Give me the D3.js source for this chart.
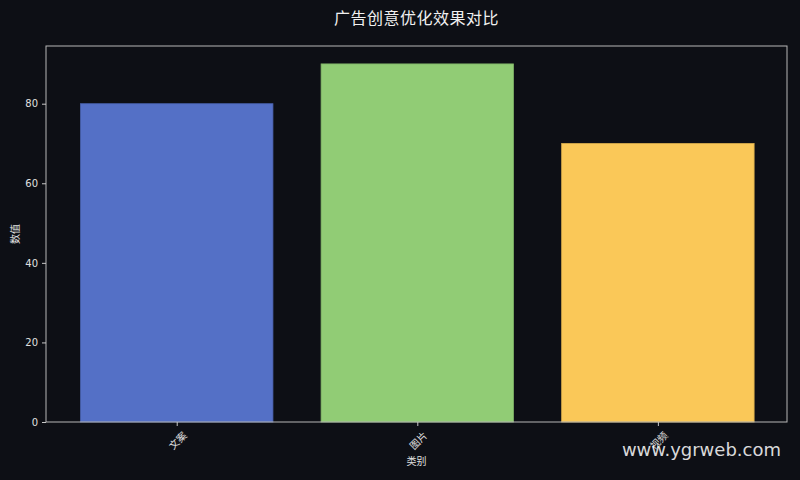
<!DOCTYPE html>
<html><head><meta charset="utf-8">
<script src="https://cdn.jsdelivr.net/npm/d3@7"></script>
<style>
html,body{margin:0;padding:0;background:#0d0f15;}
svg{display:block;}
text{font-family:"DejaVu Sans","Noto Sans CJK SC",sans-serif;}
</style></head>
<body>
<svg id="chart" width="800" height="480"></svg>
<script>
const categories = ["文案", "图片", "视频"];
const values = [80, 90, 70];
const barColors = ["#5470c6", "#91cc75", "#fac858"];
const yTicks = [0, 20, 40, 60, 80];
const title = "广告创意优化效果对比";
const xLabel = "类别";
const yLabel = "数值";
const watermark = "www.ygrweb.com";

const W = 800, H = 480;
const m = {left: 46, right: 13, top: 46, bottom: 58};
const svg = d3.select("#chart");
svg.append("rect").attr("width", W).attr("height", H).attr("fill", "#0d0f15");

const x = d3.scaleLinear().domain([-0.54, categories.length - 1 + 0.54]).range([m.left + 0.8, W - m.right + 0.8]);
const y = d3.scaleLinear().domain([0, d3.max(values) * 1.05]).range([H - m.bottom, m.top]);
const bw = 0.8;

svg.append("g").selectAll("rect").data(values).join("rect")
  .attr("x", (d, i) => x(i - bw / 2))
  .attr("width", (d, i) => x(i + bw / 2) - x(i - bw / 2))
  .attr("y", d => y(d))
  .attr("height", d => y(0) - y(d))
  .attr("fill", (d, i) => barColors[i])
  .attr("stroke", (d, i) => d3.color(barColors[i]).darker(0.4))
  .attr("stroke-width", 0.8);

// frame
svg.append("rect")
  .attr("x", m.left).attr("y", m.top)
  .attr("width", W - m.left - m.right).attr("height", H - m.top - m.bottom)
  .attr("fill", "none").attr("stroke", "#b8b8b8").attr("stroke-width", 1);

// y axis
const yAxis = d3.axisLeft(y).tickValues(yTicks).tickSize(4).tickPadding(4);
const gy = svg.append("g").attr("transform", `translate(${m.left},0)`).call(yAxis);
gy.select(".domain").remove();
gy.selectAll("line").attr("stroke", "#c8c8c8");
gy.selectAll("text").attr("fill", "#e0e0e0").style("font-size", "10px");

// x axis
const xAxis = d3.axisBottom(x).tickValues(d3.range(categories.length)).tickFormat(i => categories[i]).tickSize(4).tickPadding(0);
const gx = svg.append("g").attr("transform", `translate(0,${H - m.bottom})`).call(xAxis);
gx.select(".domain").remove();
gx.selectAll("line").attr("stroke", "#c8c8c8");
gx.selectAll("text")
  .attr("fill", "#e0e0e0").style("font-size", "10px")
  .style("font-family", "'Noto Sans CJK SC',sans-serif")
  .attr("y", null).attr("dy", null)
  .attr("text-anchor", "middle")
  .attr("dominant-baseline", "central")
  .attr("transform", "translate(0,18) rotate(-45)");

// title
svg.append("text").attr("x", (m.left + W - m.right) / 2).attr("y", 24)
  .attr("text-anchor", "middle").attr("fill", "#f0f0f0")
  .style("font-size", "16px").style("font-family", "'Noto Sans CJK SC',sans-serif")
  .style("letter-spacing", "0.5px")
  .text(title);

// axis labels
svg.append("text").attr("x", (m.left + W - m.right) / 2).attr("y", 465)
  .attr("text-anchor", "middle").attr("fill", "#e0e0e0")
  .style("font-size", "10px").style("font-family", "'Noto Sans CJK SC',sans-serif")
  .text(xLabel);
svg.append("text").attr("transform", `translate(19,${(m.top + H - m.bottom) / 2}) rotate(-90)`)
  .attr("text-anchor", "middle").attr("fill", "#e0e0e0")
  .style("font-size", "10px").style("font-family", "'Noto Sans CJK SC',sans-serif")
  .text(yLabel);

// watermark
svg.append("text").attr("x", 781).attr("y", 456)
  .attr("text-anchor", "end").attr("fill", "#ffffff").attr("fill-opacity", 0.85)
  .style("font-size", "18px").style("font-family", "'DejaVu Sans',sans-serif")
  .text(watermark);
</script>
</body></html>
